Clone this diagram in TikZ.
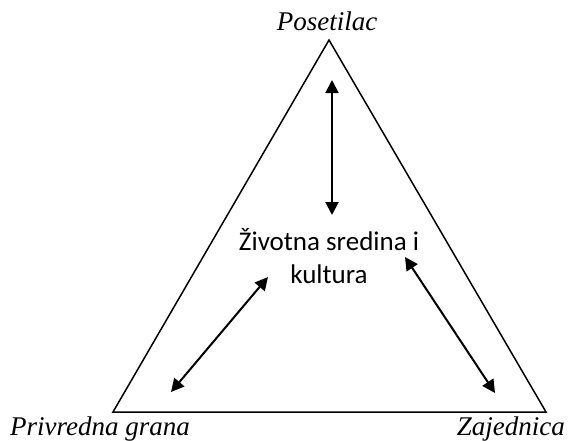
\documentclass[tikz,border=0pt]{standalone}
\usepackage{fontspec}
\setmainfont{Liberation Serif}
\newfontfamily\carlito{Carlito}
\usetikzlibrary{arrows.meta}

\begin{document}
\begin{tikzpicture}[x=1pt, y=-1pt, every node/.style={inner sep=0pt},
  corner/.style={font=\fontsize{27}{32}\selectfont\itshape, anchor=base},
  link/.style={line width=2pt, {Triangle[length=13pt,width=13pt]}-{Triangle[length=13pt,width=13pt]}}]
\useasboundingbox (0,0) rectangle (568,440);
% Points
\coordinate (top) at (329,40);
\coordinate (left) at (113,412);
\coordinate (right) at (546,412);
\node[corner] (visitor) at (327,30) {Posetilac};
\node[corner, anchor=base west] (industry) at (10,435) {Privredna grana};
\node[corner, anchor=base east] (community) at (565,435) {Zajednica};
\node[font=\carlito\fontsize{27}{33}\selectfont, align=center, anchor=base] (env) at (329,283) {Životna sredina i\\kultura};
% Arrow ends
\coordinate (a1) at (332,80);
\coordinate (a2) at (332,215);
\coordinate (b1) at (268,277);
\coordinate (b2) at (171,392);
\coordinate (c1) at (405,257);
\coordinate (c2) at (495,393);
% Lines
\draw[line width=1.5pt] (top) -- (left) -- (right) -- cycle;
\draw[link] (a1) -- (a2);
\draw[link] (b1) -- (b2);
\draw[link] (c1) -- (c2);
\end{tikzpicture}
\end{document}
